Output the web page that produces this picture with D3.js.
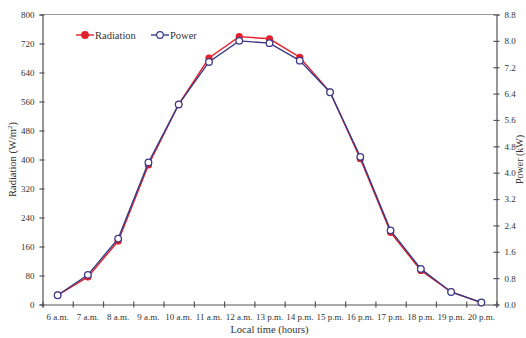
<!DOCTYPE html>
<html>
<head>
<meta charset="utf-8">
<script src="https://cdn.jsdelivr.net/npm/d3@7"></script>
<style>
  body { margin: 0; background: #fff; }
  svg text { font-family: "Liberation Serif", "Times New Roman", serif; fill: #333; }
</style>
</head>
<body>
<figure id="chart" style="margin:0"></figure>
<script>
const hours = ["6 a.m.", "7 a.m.", "8 a.m.", "9 a.m.", "10 a.m.", "11 a.m.", "12 a.m.", "13 p.m.",
  "14 p.m.", "15 p.m.", "16 p.m.", "17 p.m.", "18 p.m.", "19 p.m.", "20 p.m."];
const radiation = [26, 76, 175, 385, 552, 680, 739, 733, 682, 586, 402, 199, 94, 35, 5];
const power = [0.28, 0.9, 2.0, 4.31, 6.07, 7.36, 8.0, 7.93, 7.4, 6.44, 4.48, 2.25, 1.08, 0.38, 0.06];
const radTicks = [0, 80, 160, 240, 320, 400, 480, 560, 640, 720, 800];
const powTicks = [0, 0.8, 1.6, 2.4, 3.2, 4.0, 4.8, 5.6, 6.4, 7.2, 8.0, 8.8];

const width = 526, height = 338;
const plotLeft = 42.5, plotRight = 496.5, plotTop = 14.5, plotBottom = 304.5;
const red = "#e3202b", navy = "#3c3a86";

const svg = d3.select("#chart").append("svg")
  .attr("width", width).attr("height", height);

const x = d3.scaleBand().domain(hours).range([plotLeft, plotRight]);
const xEdge = d3.scaleLinear().domain([0, hours.length]).range([plotLeft, plotRight]);
const yRad = d3.scaleLinear().domain([0, 800]).range([plotBottom, plotTop]);
const yPow = d3.scaleLinear().domain([0, 8.8]).range([plotBottom, plotTop]);

// top frame line
svg.append("line")
  .attr("x1", plotLeft).attr("x2", plotRight).attr("y1", plotTop).attr("y2", plotTop)
  .attr("stroke", "#999").attr("stroke-width", 1.2);

// bottom axis: tick marks at band edges, labels at band centres
const xTicks = svg.append("g")
  .attr("transform", "translate(0," + plotBottom + ")")
  .call(d3.axisBottom(xEdge).ticks(hours.length).tickSize(3).tickFormat(""));
xTicks.selectAll(".tick line").attr("y1", -3);

const xLabels = svg.append("g")
  .attr("transform", "translate(0," + plotBottom + ")")
  .call(d3.axisBottom(x).tickSize(0).tickPadding(9));
xLabels.select(".domain").remove();

const yLeft = svg.append("g")
  .attr("transform", "translate(" + plotLeft + ",0)")
  .call(d3.axisLeft(yRad).tickValues(radTicks).tickSize(3).tickPadding(5));
yLeft.selectAll(".tick line").attr("x1", 2);

const yRight = svg.append("g")
  .attr("transform", "translate(" + plotRight + ",0)")
  .call(d3.axisRight(yPow).tickValues(powTicks).tickSize(3).tickPadding(5).tickFormat(d3.format(".1f")));
yRight.selectAll(".tick line").attr("x1", -3);

svg.selectAll(".domain, .tick line").attr("stroke", "#555").attr("stroke-width", 1.2);
svg.selectAll(".tick text").attr("font-size", 9).attr("font-family", "Liberation Serif").attr("fill", "#333");

// axis titles
svg.append("text")
  .attr("transform", "translate(16," + (plotTop + plotBottom) / 2 + ") rotate(-90)")
  .attr("text-anchor", "middle").attr("font-size", 10.5)
  .html("Radiation (W/m<tspan dy='-4' font-size='7'>2</tspan><tspan dy='4'>)</tspan>");

svg.append("text")
  .attr("transform", "translate(523," + (plotTop + plotBottom) / 2 + ") rotate(-90)")
  .attr("text-anchor", "middle").attr("font-size", 10)
  .text("Power (kW)");

svg.append("text")
  .attr("x", (plotLeft + plotRight) / 2).attr("y", 333)
  .attr("text-anchor", "middle").attr("font-size", 10.5)
  .text("Local time (hours)");

// series
const cx = d => x(d) + x.bandwidth() / 2;

const radLine = d3.line().x((d, i) => cx(hours[i])).y(d => yRad(d));
const powLine = d3.line().x((d, i) => cx(hours[i])).y(d => yPow(d));

svg.append("path").datum(radiation)
  .attr("d", radLine).attr("fill", "none").attr("stroke", red).attr("stroke-width", 1.4);
svg.selectAll(".rad").data(radiation).enter().append("circle")
  .attr("class", "rad")
  .attr("cx", (d, i) => cx(hours[i])).attr("cy", d => yRad(d))
  .attr("r", 3.6).attr("fill", red);

svg.append("path").datum(power)
  .attr("d", powLine).attr("fill", "none").attr("stroke", navy).attr("stroke-width", 1.4);
svg.selectAll(".pow").data(power).enter().append("circle")
  .attr("class", "pow")
  .attr("cx", (d, i) => cx(hours[i])).attr("cy", d => yPow(d))
  .attr("r", 3.3).attr("fill", "#fff").attr("stroke", navy).attr("stroke-width", 1.3);

// legend
const legend = [
  { name: "Radiation", color: red, fill: red, x: 76 },
  { name: "Power", color: navy, fill: "#fff", x: 151 }
];
const lg = svg.append("g").selectAll("g").data(legend).enter().append("g");
lg.append("line")
  .attr("x1", d => d.x).attr("x2", d => d.x + 18).attr("y1", 35).attr("y2", 35)
  .attr("stroke", d => d.color).attr("stroke-width", 1.4);
lg.append("circle")
  .attr("cx", d => d.x + 9).attr("cy", 35).attr("r", 3.3)
  .attr("fill", d => d.fill).attr("stroke", d => d.color).attr("stroke-width", 1.2);
lg.append("text")
  .attr("x", d => d.x + 19).attr("y", 38.5).attr("font-size", 10.5)
  .text(d => d.name);
</script>
</body>
</html>
